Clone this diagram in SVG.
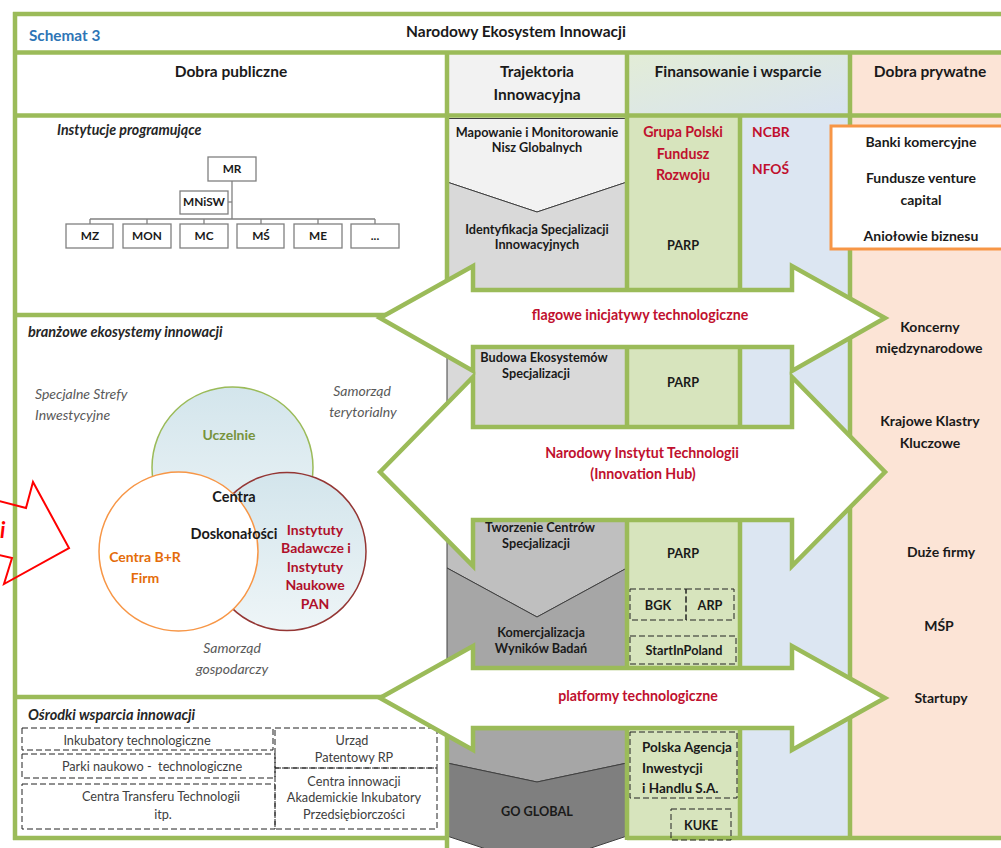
<svg xmlns="http://www.w3.org/2000/svg" width="1001" height="848" viewBox="0 0 1001 848">
<defs>
<linearGradient id="finHead" x1="0" y1="0" x2="1" y2="1">
<stop offset="0" stop-color="#e3edd6"/>
<stop offset="1" stop-color="#d8e3f1"/>
</linearGradient>
<linearGradient id="venn" x1="0" y1="0" x2="0" y2="1">
<stop offset="0" stop-color="#d3e5ec"/>
<stop offset="1" stop-color="#eef5f7"/>
</linearGradient>
<style>
text{font-family:Lato,"Liberation Sans",sans-serif;}
.g{stroke:#9bbb59;stroke-width:4.5;fill:none;}
.arrow{fill:#fff;stroke:#9bbb59;stroke-width:4.5;stroke-linejoin:miter;}
.chev{stroke:#404040;stroke-width:1;}
.h{font-size:15.5px;font-weight:bold;fill:#1a1a1a;text-anchor:middle;}
.t{font-size:12.7px;font-weight:bold;fill:#1a1a1a;text-anchor:middle;}
.tl{font-size:13.5px;font-weight:bold;fill:#1a1a1a;}
.red{font-size:14.2px;font-weight:bold;fill:#c0102e;text-anchor:middle;}
.redl{font-size:13.8px;font-weight:bold;fill:#c0102e;}
.org rect{fill:#fff;stroke:#808080;stroke-width:1.3;}
.org line{stroke:#808080;stroke-width:1.3;}
.org text{font-size:11.8px;font-weight:bold;fill:#1a1a1a;text-anchor:middle;}
.dash{fill:none;stroke:#222;stroke-width:1;stroke-dasharray:6 3;}
.os{font-size:12.7px;fill:#404040;text-anchor:middle;}
.it{font-size:14px;font-style:italic;fill:#595959;text-anchor:middle;}
.itl{font-size:14px;font-style:italic;fill:#595959;}
.sec{font-size:14.5px;font-weight:bold;font-style:italic;fill:#262626;}
.priv{font-size:14px;font-weight:bold;fill:#1a1a1a;text-anchor:middle;}
.vn{font-size:14px;font-weight:bold;text-anchor:middle;}
</style>
</defs>
<rect x="0" y="0" width="1001" height="848" fill="#fff"/>

<g id="backgrounds">
<rect x="447" y="52" width="180" height="63" fill="#f2f2f2"/>
<rect x="627" y="52" width="223" height="63" fill="url(#finHead)"/>
<rect x="850" y="52" width="151" height="786" fill="#fce4d6"/>
<rect x="627" y="115" width="113" height="723" fill="#d7e4bd"/>
<rect x="740" y="115" width="110" height="723" fill="#dce6f2"/>
</g>

<g id="trajectory-chevrons">
<polygon class="chev" points="447,118.5 627,118.5 627,182 537,212 447,182" fill="#f2f2f2"/>
<polygon class="chev" points="447,182 537,212 627,182 627,480 537,510 447,480" fill="#d9d9d9"/>
<polygon class="chev" points="447,480 537,510 627,480 627,568 537,617 447,568" fill="#bfbfbf"/>
<polygon class="chev" points="447,568 537,617 627,568 627,763 537,782 447,763" fill="#a6a6a6"/>
<polygon class="chev" points="447,763 537,782 627,763 627,836 537,866 447,836" fill="#7f7f7f"/>
</g>

<g id="grid" class="g">
<line x1="13" y1="14" x2="1001" y2="14"/>
<line x1="15" y1="12" x2="15" y2="840"/>
<line x1="13" y1="52.5" x2="1001" y2="52.5"/>
<line x1="13" y1="115.5" x2="1001" y2="115.5"/>
<line x1="447" y1="52" x2="447" y2="300"/>
<line x1="447" y1="726" x2="447" y2="848"/>
<line x1="627" y1="52" x2="627" y2="840"/>
<line x1="740" y1="115" x2="740" y2="840"/>
<line x1="850" y1="52" x2="850" y2="840"/>
<line x1="13" y1="315" x2="447" y2="315"/>
<line x1="13" y1="697" x2="447" y2="697"/>
<line x1="445" y1="728" x2="627" y2="728"/>
<line x1="13" y1="838" x2="447" y2="838"/>
<line x1="627" y1="838" x2="1001" y2="838"/>
</g>

<g id="title">
<text x="29" y="41" font-size="15.3" font-weight="bold" fill="#2e75b6">Schemat 3</text>
<text x="516" y="37" class="h">Narodowy Ekosystem Innowacji</text>
</g>
<g id="headers">
<text x="231" y="77" class="h">Dobra publiczne</text>
<text x="537" y="77" class="h">Trajektoria</text>
<text x="537" y="100" class="h">Innowacyjna</text>
<text x="738" y="77" class="h">Finansowanie i wsparcie</text>
<text x="930" y="77" class="h">Dobra prywatne</text>
</g>

<g id="instytucje-programujace">
<text x="57" y="135" class="sec" style="font-size:14.2px">Instytucje programujące</text>
<g class="org">
<line x1="232" y1="181" x2="232" y2="219"/>
<line x1="228" y1="202" x2="232" y2="202"/>
<line x1="90" y1="219" x2="375" y2="219"/>
<line x1="90" y1="219" x2="90" y2="224"/>
<line x1="147" y1="219" x2="147" y2="224"/>
<line x1="204" y1="219" x2="204" y2="224"/>
<line x1="261" y1="219" x2="261" y2="224"/>
<line x1="318" y1="219" x2="318" y2="224"/>
<line x1="375" y1="219" x2="375" y2="224"/>
<g id="node-MR"><rect x="208" y="157" width="48" height="24"/><text x="232" y="173">MR</text></g>
<g id="node-MNiSW"><rect x="180" y="191" width="48" height="23"/><text x="204" y="206">MNiSW</text></g>
<g id="node-MZ"><rect x="66" y="224" width="47" height="24"/><text x="90" y="240">MZ</text></g>
<g id="node-MON"><rect x="123" y="224" width="48" height="24"/><text x="147" y="240">MON</text></g>
<g id="node-MC"><rect x="180" y="224" width="48" height="24"/><text x="204" y="240">MC</text></g>
<g id="node-MS"><rect x="237" y="224" width="47" height="24"/><text x="261" y="240">MŚ</text></g>
<g id="node-ME"><rect x="294" y="224" width="48" height="24"/><text x="318" y="240">ME</text></g>
<g id="node-etc"><rect x="351" y="224" width="48" height="24"/><text x="375" y="240">...</text></g>
</g>
</g>

<g id="branzowe-ekosystemy">
<text x="28" y="337" class="sec">branżowe ekosystemy innowacji</text>
<text x="35" y="399" class="itl">Specjalne Strefy</text>
<text x="35" y="420" class="itl">Inwestycyjne</text>
<text x="362" y="396" class="it">Samorząd</text>
<text x="363" y="417" class="it">terytorialny</text>
<text x="232" y="653" class="it">Samorząd</text>
<text x="232" y="674" class="it">gospodarczy</text>
<g id="venn-uczelnie"><circle cx="232.5" cy="467.5" r="80.5" fill="url(#venn)" stroke="#9bbb59" stroke-width="1.5"/></g>
<g id="venn-instytuty"><circle cx="287" cy="551.5" r="79" fill="url(#venn)" stroke="#943634" stroke-width="1.5"/></g>
<g id="venn-centra"><circle cx="178.5" cy="551.5" r="79.5" fill="#fff" stroke="#f79646" stroke-width="1.5"/></g>
<text x="229" y="440" class="vn" fill="#77933c">Uczelnie</text>
<text x="234" y="502" class="vn" fill="#1a1a1a" style="font-size:14.5px">Centra</text>
<text x="234" y="539" class="vn" fill="#1a1a1a" style="font-size:14.5px">Doskonałości</text>
<text x="145" y="562" class="vn" fill="#e46c0a">Centra B+R</text>
<text x="145" y="583" class="vn" fill="#e46c0a">Firm</text>
<g class="vn" fill="#b0102a">
<text x="315" y="535" class="vn">Instytuty</text>
<text x="316" y="553" class="vn">Badawcze i</text>
<text x="315" y="572" class="vn">Instytuty</text>
<text x="315" y="590" class="vn">Naukowe</text>
<text x="315" y="609" class="vn">PAN</text>
</g>
</g>

<g id="osrodki-wsparcia">
<text x="28" y="720" class="sec">Ośrodki wsparcia innowacji</text>
<rect class="dash" x="22" y="728" width="251" height="22"/>
<rect class="dash" x="22" y="754" width="253" height="24"/>
<rect class="dash" x="22" y="784" width="253" height="45"/>
<rect class="dash" x="275" y="728" width="162" height="40"/>
<rect class="dash" x="275" y="768" width="162" height="61"/>
<text x="137" y="745" class="os">Inkubatory technologiczne</text>
<text x="152" y="771" class="os" xml:space="preserve">Parki naukowo -  technologiczne</text>
<text x="161" y="801" class="os">Centra Transferu Technologii</text>
<text x="163" y="819" class="os">itp.</text>
<text x="352" y="745" class="os">Urząd</text>
<text x="354" y="762" class="os">Patentowy RP</text>
<text x="354" y="786" class="os">Centra innowacji</text>
<text x="354" y="802" class="os">Akademickie Inkubatory</text>
<text x="354" y="819" class="os">Przedsiębiorczości</text>
</g>

<g id="prywatne-box">
<rect x="831" y="126" width="185" height="123" fill="#fff" stroke="#f79646" stroke-width="3"/>
<text x="921" y="147" class="priv">Banki komercyjne</text>
<text x="921" y="183" class="priv">Fundusze venture</text>
<text x="921" y="205" class="priv">capital</text>
<text x="921" y="241" class="priv">Aniołowie biznesu</text>
</g>

<g id="connectors">
<path id="arrow-flagowe" class="arrow" d="M380,318 L473,266 L473,290 L792,290 L792,266 L885,318 L792,371 L792,347 L473,347 L473,371 Z"/>
<path id="arrow-nit" class="arrow" d="M380,472 L473,377 L473,427 L792,427 L792,377 L885,472 L792,566 L792,520 L473,520 L473,566 Z"/>
<path id="arrow-platformy" class="arrow" d="M380,698 L473,646 L473,668 L792,668 L792,646 L885,698 L792,750 L792,728 L473,728 L473,750 Z"/>
</g>

<g id="arrow-labels">
<text x="640" y="320" class="red">flagowe inicjatywy technologiczne</text>
<text x="642" y="458" class="red">Narodowy Instytut Technologii</text>
<text x="643" y="479" class="red">(Innovation Hub)</text>
<text x="638" y="701" class="red">platformy technologiczne</text>
</g>

<g id="trajektoria-labels">
<text x="537" y="137" class="t">Mapowanie i Monitorowanie</text>
<text x="537" y="152" class="t">Nisz Globalnych</text>
<text x="537" y="234" class="t">Identyfikacja Specjalizacji</text>
<text x="537" y="249" class="t">Innowacyjnych</text>
<text x="544" y="362" class="t">Budowa Ekosystemów</text>
<text x="536" y="378" class="t">Specjalizacji</text>
<text x="540" y="532" class="t">Tworzenie Centrów</text>
<text x="536" y="548" class="t">Specjalizacji</text>
<text x="541" y="637" class="t">Komercjalizacja</text>
<text x="541" y="653" class="t">Wyników Badań</text>
<text x="537" y="816" class="t">GO GLOBAL</text>
</g>

<g id="finansowanie">
<text x="683" y="137" class="red">Grupa Polski</text>
<text x="683" y="159" class="red">Fundusz</text>
<text x="683" y="180" class="red">Rozwoju</text>
<text x="752" y="137" class="redl">NCBR</text>
<text x="752" y="174" class="redl">NFOŚ</text>
<text x="683" y="250" class="t">PARP</text>
<text x="683" y="387" class="t">PARP</text>
<text x="683" y="558" class="t">PARP</text>
<g id="node-BGK"><rect class="dash" x="630" y="589" width="56" height="31"/><text x="658" y="610" class="t">BGK</text></g>
<g id="node-ARP"><rect class="dash" x="686" y="589" width="48" height="31"/><text x="710" y="610" class="t">ARP</text></g>
<g id="node-StartInPoland"><rect class="dash" x="630" y="636" width="106" height="28"/><text x="684" y="655" class="t">StartInPoland</text></g>
<g id="node-PAIH"><rect class="dash" x="630" y="732" width="107" height="66"/>
<text x="642" y="752" class="tl">Polska Agencja</text>
<text x="642" y="773" class="tl">Inwestycji</text>
<text x="642" y="793" class="tl">i Handlu S.A.</text></g>
<g id="node-KUKE"><rect class="dash" x="671" y="809" width="60" height="31"/><text x="701" y="830" class="t">KUKE</text></g>
</g>

<g id="prywatne">
<text x="930" y="332" class="priv">Koncerny</text>
<text x="929" y="353" class="priv">międzynarodowe</text>
<text x="930" y="426" class="priv">Krajowe Klastry</text>
<text x="930" y="448" class="priv">Kluczowe</text>
<text x="941" y="557" class="priv">Duże firmy</text>
<text x="939" y="631" class="priv">MŚP</text>
<text x="941" y="703" class="priv">Startupy</text>
</g>

<g id="callout">
<path d="M-5,500 L26,508 L33,482 L69,548 L4,584 L12,558 L-5,554" fill="none" stroke="#ff0000" stroke-width="2"/>
<text x="0" y="538" font-size="22" font-weight="bold" font-style="italic" fill="#ff0000">i</text>
</g>
</svg>
